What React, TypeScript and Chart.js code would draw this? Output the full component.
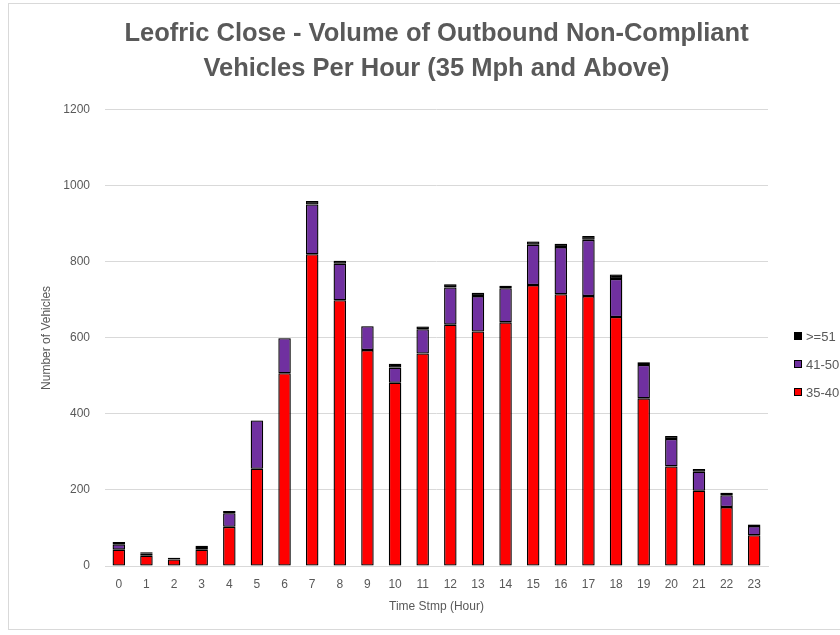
import React, { useEffect, useRef } from "react";
import { Chart, registerables } from "chart.js";

Chart.register(...registerables);

const hours = ["0","1","2","3","4","5","6","7","8","9","10","11","12","13","14","15","16","17","18","19","20","21","22","23"];
const speed35to40 = [43, 27, 17, 43, 103, 256, 507, 820, 699, 568, 482, 559, 635, 617, 641, 739, 715, 710, 655, 441, 262, 198, 155, 81];
const speed41to50 = [14, 5, 0, 7, 36, 127, 92, 131, 96, 63, 40, 64, 98, 93, 90, 106, 124, 148, 100, 88, 72, 50, 31, 24];
const speed51plus = [6, 4, 5, 3, 6, 0, 0, 9, 8, 0, 10, 7, 8, 9, 6, 9, 9, 10, 12, 7, 8, 7, 7, 4];

const seriesNames = ["35-40", "41-50", ">=51"];
const seriesColors = ["#FF0000", "#7030A0", "#000000"];
const titleLines = ["Leofric Close - Volume of Outbound Non-Compliant", "Vehicles Per Hour (35 Mph and Above)"];

const FONT = "'Liberation Sans', Arial, sans-serif";
const GREY = "#595959";

const shadowPlugin = {
  id: "barShadow",
  beforeDatasetsDraw(chart: any) {
    const ctx = chart.ctx;
    ctx.save();
    ctx.shadowColor = "rgba(0,0,0,0.4)";
    ctx.shadowBlur = 3;
    ctx.shadowOffsetX = 0;
    ctx.shadowOffsetY = 0;
  },
  afterDatasetsDraw(chart: any) {
    chart.ctx.restore();
  },
};

const legendPlugin = {
  id: "sideLegend",
  afterDraw(chart: any) {
    const ctx = chart.ctx;
    const x = chart.chartArea.right + 26;
    const order = [2, 1, 0];
    ctx.save();
    ctx.font = `13px ${FONT}`;
    ctx.textBaseline = "middle";
    ctx.textAlign = "left";
    order.forEach((idx, i) => {
      const cy = 332 + i * 28;
      ctx.fillStyle = seriesColors[idx];
      ctx.fillRect(x, cy - 4, 8, 8);
      ctx.strokeStyle = "#000000";
      ctx.lineWidth = 1;
      ctx.strokeRect(x + 0.5, cy - 3.5, 7, 7);
      ctx.fillStyle = GREY;
      ctx.fillText(seriesNames[idx], x + 12, cy + 1);
    });
    ctx.restore();
  },
};

export default function App() {
  const ref = useRef<HTMLCanvasElement | null>(null);

  useEffect(() => {
    if (!ref.current) return;
    const values = [speed35to40, speed41to50, speed51plus];
    const chart = new Chart(ref.current, {
      type: "bar",
      data: {
        labels: hours,
        datasets: values.map((v, i) => ({
          label: seriesNames[i],
          data: v,
          backgroundColor: seriesColors[i],
          borderColor: "#000000",
          borderWidth: 1.3,
          borderSkipped: false,
          barPercentage: 0.45,
          categoryPercentage: 1,
        })),
      },
      options: {
        responsive: false,
        animation: false,
        devicePixelRatio: 1,
        layout: { padding: { left: 0, right: 111, top: 0, bottom: 0 } },
        plugins: {
          legend: { display: false },
          tooltip: { enabled: false },
          title: {
            display: true,
            text: titleLines,
            color: GREY,
            font: { family: FONT, size: 25.5, weight: "bold", lineHeight: 1.37 },
            padding: { top: 13, bottom: 23 },
            fullSize: false,
          },
        },
        scales: {
          x: {
            stacked: true,
            grid: { display: false, drawTicks: false },
            border: { display: true, color: "#D9D9D9", width: 1 },
            ticks: { color: GREY, font: { family: FONT, size: 12 }, padding: 11, maxRotation: 0 },
            title: {
              display: true,
              text: "Time Stmp (Hour)",
              color: GREY,
              font: { family: FONT, size: 12 },
              padding: { top: 0, bottom: 15 },
            },
            afterFit: (scale: any) => {
              scale.height = 63;
            },
          },
          y: {
            stacked: true,
            min: 0,
            max: 1200,
            ticks: {
              stepSize: 200,
              color: GREY,
              font: { family: FONT, size: 12 },
              padding: 15,
              callback: (v: any) => String(v),
            },
            grid: { color: "#D9D9D9", lineWidth: 1, drawTicks: false },
            border: { display: false },
            title: {
              display: true,
              text: "Number of Vehicles",
              color: GREY,
              font: { family: FONT, size: 12 },
              padding: { top: 30, bottom: 0 },
            },
            afterFit: (scale: any) => {
              scale.width = 96;
            },
          },
        },
      },
      plugins: [shadowPlugin, legendPlugin],
    });
    return () => chart.destroy();
  }, []);

  return (
    <div style={{ position: "absolute", left: 0, top: 0, width: 840, height: 635, overflow: "hidden", background: "#fff" }}>
      <div
        style={{
          position: "absolute",
          left: 8,
          top: 3,
          width: 870,
          height: 625,
          border: "1px solid #D9D9D9",
          background: "#fff",
        }}
      >
        <canvas ref={ref} width={870} height={625} style={{ display: "block", width: 870, height: 625 }} />
      </div>
    </div>
  );
}
